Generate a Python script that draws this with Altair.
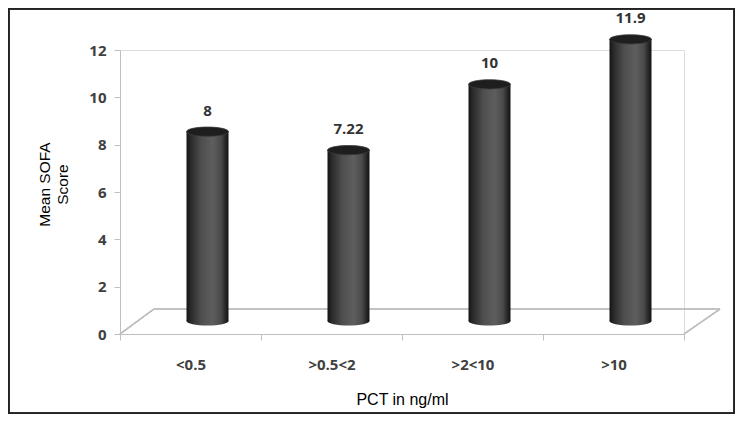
import altair as alt
import pandas as pd

categories = ["<0.5", ">0.5<2", ">2<10", ">10"]
values = [8, 7.22, 10, 11.9]
value_labels = ["8", "7.22", "10", "11.9"]
y_ticks = [0, 2, 4, 6, 8, 10, 12]

df = pd.DataFrame({"cat": categories, "val": values, "lab": value_labels})

W, H = 564, 284
PAD = {"left": 112, "top": 42, "right": 51, "bottom": 80}
DX, DY = 17, -13        # 3D depth offset of the cylinders
FLOOR_DX, FLOOR_DY = 34, -25

x_enc = alt.X("cat:N", sort=categories, scale=alt.Scale(paddingInner=0, paddingOuter=0),
              axis=alt.Axis(title="PCT in ng/ml", labelAngle=0, tickBand="extent",
                            tickSize=6, tickColor="#bfbfbf", domainColor="#bfbfbf",
                            labelFont="Open Sans", labelFontWeight="bold", labelFontSize=15,
                            labelColor="#404040", labelPadding=17,
                            titleFont="Liberation Sans", titleFontSize=16,
                            titleFontWeight="normal", titleColor="#000000",
                            titleBaseline="alphabetic", titleY=70))
y_scale = alt.Scale(domain=[0, 12], nice=False)
y_enc = alt.Y("val:Q", scale=y_scale,
              axis=alt.Axis(values=y_ticks, grid=False, tickSize=6, tickColor="#bfbfbf",
                            domainColor="#bfbfbf", labelFont="Open Sans",
                            labelFontWeight="bold", labelFontSize=15, labelColor="#404040",
                            labelPadding=8, title=["Mean SOFA", "Score"],
                            titleFont="Liberation Sans", titleFontSize=15.5,
                            titleFontWeight="normal", titleColor="#000000", titleAngle=-90,
                            titleAlign="center", titleBaseline="bottom", titleLineHeight=18,
                            titleX=-68, titleY=H / 2 - 8))

body_grad = alt.LinearGradient(
    gradient="linear", x1=0, x2=1, y1=0, y2=0,
    stops=[alt.GradientStop(color="#141414", offset=0),
           alt.GradientStop(color="#2a2a2a", offset=0.1),
           alt.GradientStop(color="#4e4e4e", offset=0.35),
           alt.GradientStop(color="#5e5e5e", offset=0.62),
           alt.GradientStop(color="#4a4a4a", offset=0.82),
           alt.GradientStop(color="#262626", offset=0.93),
           alt.GradientStop(color="#131313", offset=1)])

ELLIPSE = "M -1 0 A 1 0.22 0 1 0 1 0 A 1 0.22 0 1 0 -1 0 Z"
BAR_W = 42

base = alt.Chart(df)

# floor (3D base plane)
floor_back = base.mark_rule(color="#bfbfbf", strokeWidth=1.2, yOffset=FLOOR_DY).encode(
    x=alt.value(FLOOR_DX), x2=alt.value(W + FLOOR_DX + 2), y=alt.datum(0, scale=y_scale))
floor_left = base.mark_rule(color="#bfbfbf", strokeWidth=1.2, y2Offset=FLOOR_DY).encode(
    x=alt.value(0), x2=alt.value(FLOOR_DX), y=alt.datum(0), y2=alt.datum(0))
floor_right = base.mark_rule(color="#bfbfbf", strokeWidth=1.2, y2Offset=FLOOR_DY).encode(
    x=alt.value(W), x2=alt.value(W + FLOOR_DX + 2), y=alt.datum(0), y2=alt.datum(0))

bottom_ell = base.mark_point(shape=ELLIPSE, size=BAR_W ** 2, filled=True, fill=body_grad,
                             opacity=1, strokeWidth=0, xOffset=DX, yOffset=DY).encode(
    x=x_enc, y=alt.datum(0))
bars = base.mark_bar(size=BAR_W, fill=body_grad, xOffset=DX, yOffset=DY, y2Offset=DY).encode(
    x=x_enc, y=y_enc, y2=alt.datum(0))
top_ell = base.mark_point(shape=ELLIPSE, size=BAR_W ** 2, filled=True, fill="#1e1e1e",
                          opacity=1, stroke="#3a3a3a", strokeWidth=0.8,
                          xOffset=DX, yOffset=DY).encode(x=x_enc, y="val:Q")
labels = base.mark_text(font="Open Sans", fontWeight="bold", fontSize=15, color="#333333",
                        baseline="middle", xOffset=DX, dy=-34).encode(
    x=x_enc, y="val:Q", text="lab:N")

frame = base.mark_rect(filled=False, stroke="#222222", strokeWidth=1.5).encode(
    x=alt.value(-PAD["left"] + 0.75), x2=alt.value(W + PAD["right"] - 0.75),
    y=alt.value(-PAD["top"] + 0.75), y2=alt.value(H + PAD["bottom"] - 0.75))

chart = alt.layer(floor_back, floor_left, floor_right, bottom_ell, bars, top_ell, labels,
                  frame).properties(
    width=W, height=H, autosize=alt.AutoSizeParams(type="none"), padding=PAD
).configure_view(stroke=None).configure(background="white")

chart.save("out.html", embed_options={"renderer": "svg", "actions": False})
